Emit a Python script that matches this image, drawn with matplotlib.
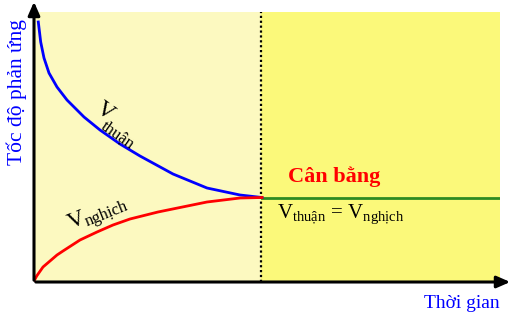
import matplotlib.pyplot as plt

plt.rcParams['font.family'] = ['Liberation Serif', 'DejaVu Serif']
plt.rcParams['mathtext.fontset'] = 'custom'
plt.rcParams['mathtext.rm'] = 'Liberation Serif'

# speeds (time, rate in arbitrary units)
t_thuan = [4.3, 6.7, 10, 15, 23, 33, 50, 66, 86, 106, 139, 173, 206, 228]
v_thuan = [260, 240, 224, 209, 195, 182, 165, 152, 138, 126, 108, 94, 87, 84.5]
t_nghich = [0, 2.7, 9, 16, 23, 29, 46, 63, 79, 96, 124, 173, 206, 228]
v_nghich = [1, 6, 15, 21, 27, 31, 42, 50, 57, 63, 70, 80, 84, 84.5]
t_cb = [228, 466]
v_cb = [84.5, 84.5]
t_eq = 227

fig = plt.figure(figsize=(5.16, 3.18), dpi=100)
ax = fig.add_axes([34/516, 36/318, 466/516, 270/318])
ax.set_xlim(0, 466)
ax.set_ylim(0, 270)
for s in ax.spines.values():
    s.set_visible(False)
ax.set_xticks([])
ax.set_yticks([])

# background zones
ax.axvspan(0, t_eq, color='#FCF9C0', zorder=0)
ax.axvspan(t_eq, 466, color='#FBF97A', zorder=0)
ax.axvline(t_eq, color='black', ls=(0, (1, 1.2)), lw=1.6, zorder=1)

ax.plot(t_thuan, v_thuan, color='blue', lw=2, zorder=3)
ax.plot(t_nghich, v_nghich, color='red', lw=2, zorder=3)
ax.plot(t_cb, v_cb, color='#2E8B22', lw=2, zorder=2)

# axes with arrows
ax.annotate('', xy=(0, 283), xytext=(0, -1), annotation_clip=False,
            arrowprops=dict(arrowstyle='-|>,head_length=0.8,head_width=0.35', color='black', lw=2.2))
ax.annotate('', xy=(479, 0), xytext=(-1, 0), annotation_clip=False,
            arrowprops=dict(arrowstyle='-|>,head_length=0.8,head_width=0.35', color='black', lw=2.2))

ax.text(-17, 190, 'Tốc độ phản ứng', color='blue', fontsize=15.5, rotation=90,
        ha='center', va='center', clip_on=False)
ax.text(428, -21, 'Thời gian', color='blue', fontsize=14, ha='center', va='center', clip_on=False)

# curve labels
ax.text(71, 171, 'V', fontsize=17, rotation=-35, ha='center', va='center')
ax.text(84, 147, 'thuận', fontsize=12, rotation=-35, ha='center', va='center')
ax.text(43, 61, 'V', fontsize=17, rotation=22, ha='center', va='center')
ax.text(73, 68, 'nghịch', fontsize=12, rotation=22, ha='center', va='center')

ax.text(300, 105, 'Cân bằng', color='red', fontsize=16, fontweight='bold', ha='center', va='center')
ax.text(243, 67, r'V$_{\mathregular{thuận}}$ = V$_{\mathregular{nghịch}}$', fontsize=15,
        ha='left', va='center')

fig.savefig('out.png', dpi=100)
